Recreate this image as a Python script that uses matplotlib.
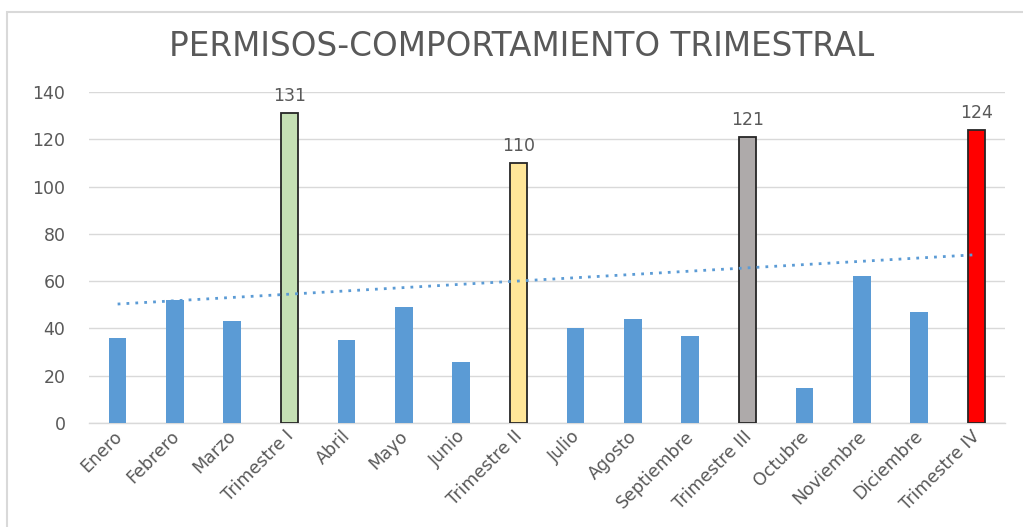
import matplotlib

matplotlib.use("Agg")

import matplotlib.pyplot as plt
import matplotlib.transforms as mtransforms
import numpy as np
from matplotlib.patches import Rectangle

categorias = [
    "Enero", "Febrero", "Marzo", "Trimestre I",
    "Abril", "Mayo", "Junio", "Trimestre II",
    "Julio", "Agosto", "Septiembre", "Trimestre III",
    "Octubre", "Noviembre", "Diciembre", "Trimestre IV",
]
valores = [36, 52, 43, 131, 35, 49, 26, 110, 40, 44, 37, 121, 15, 62, 47, 124]
trimestres = {3: "#c5e0b4", 7: "#ffe699", 11: "#aeaaaa", 15: "#ff0000"}
titulo = "PERMISOS-COMPORTAMIENTO TRIMESTRAL"

GRIS = "#595959"

plt.rcParams["font.family"] = ["DejaVu Sans"]

fig = plt.figure(figsize=(10.23, 5.27), dpi=100)
fig.patches.append(Rectangle((7 / 1023, -0.1), 1.2, 1.1 - 12 / 527, transform=fig.transFigure,
                             fill=False, edgecolor="#d9d9d9", linewidth=1.5))
ax = fig.add_axes([89 / 1023, 1 - 423 / 527, (1005 - 89) / 1023, (423 - 92) / 527])

x = np.arange(len(categorias))
for i, v in enumerate(valores):
    if i in trimestres:
        ax.bar(i, v, width=0.31, color=trimestres[i], edgecolor="#262626", linewidth=1.3, zorder=3)
        ax.text(i, v + 3.5, str(v), ha="center", va="bottom", fontsize=12.5, color=GRIS)
    else:
        ax.bar(i, v, width=0.31, color="#5b9bd5", zorder=3)

# linea de tendencia lineal (como en Excel)
pendiente, intercepto = np.polyfit(x, valores, 1)
ax.plot(x, pendiente * x + intercepto, linestyle=(0, (1, 2.2)), color="#5b9bd5",
        linewidth=2, zorder=4)

ax.set_xlim(-0.5, len(categorias) - 0.5)
ax.set_ylim(0, 140)
ax.set_yticks(range(0, 141, 20))
ax.set_xticks(x, categorias, rotation=45, ha="right", rotation_mode="anchor")
ax.tick_params(axis="both", length=0, labelsize=12.5, colors=GRIS)
ax.tick_params(axis="y", pad=17)
ax.tick_params(axis="x", pad=3)
desplazar = mtransforms.ScaledTranslation(-5 / 100, 0, fig.dpi_scale_trans)
for etiqueta in ax.get_xticklabels():
    etiqueta.set_transform(etiqueta.get_transform() + desplazar)
ax.grid(axis="y", color="#d9d9d9", linewidth=1, zorder=0)
for lado in ["top", "right", "left"]:
    ax.spines[lado].set_visible(False)
ax.spines["bottom"].set_color("#d9d9d9")
ax.spines["bottom"].set_linewidth(1)

fig.text(522 / 1023, 1 - 47 / 527, titulo, ha="center", va="center", fontsize=23.5, color=GRIS)

fig.savefig("out.png", dpi=100)
